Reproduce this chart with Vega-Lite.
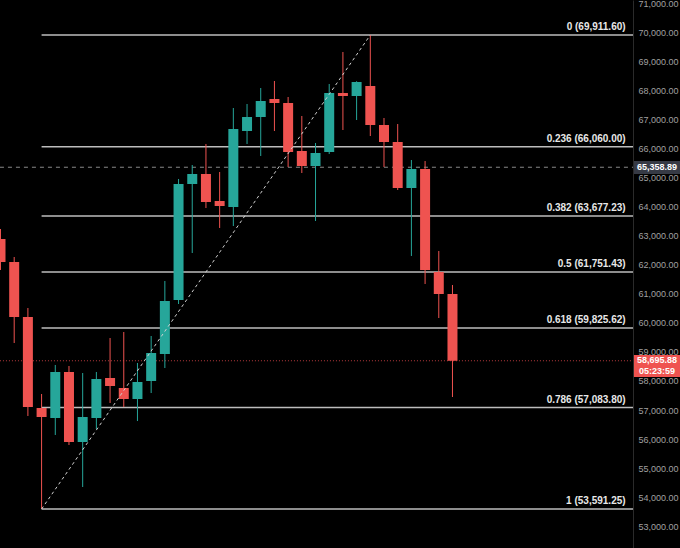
{
  "$schema": "https://vega.github.io/schema/vega-lite/v6.json",
  "width": 633,
  "height": 548,
  "autosize": {"type": "none"},
  "padding": {"left": 0, "right": 47, "top": 0, "bottom": 0},
  "background": "#000000",
  "config": {"view": {"stroke": null}, "font": "Liberation Sans", "axisY": {"labelOverlap": false, "labelBound": false, "tickCount": 19}, "axis": {"labelOverlap": false}, "axisQuantitative": {"labelOverlap": false, "tickCount": 19}},
  "datasets": {
    "candles": [
      {"i": 0, "o": 62888, "h": 63232, "l": 61821, "c": 62096, "dir": "down"},
      {"i": 1, "o": 62096, "h": 62268, "l": 59307, "c": 60202, "dir": "down"},
      {"i": 2, "o": 60202, "h": 60512, "l": 56794, "c": 57104, "dir": "down"},
      {"i": 3, "o": 57069, "h": 57551, "l": 53591.25, "c": 56759, "dir": "down"},
      {"i": 4, "o": 56725, "h": 58550, "l": 56140, "c": 58309, "dir": "up"},
      {"i": 5, "o": 58309, "h": 58515, "l": 55795, "c": 55899, "dir": "down"},
      {"i": 6, "o": 55899, "h": 58274, "l": 54349, "c": 56759, "dir": "up"},
      {"i": 7, "o": 56725, "h": 58309, "l": 56346, "c": 58068, "dir": "up"},
      {"i": 8, "o": 58102, "h": 59479, "l": 57241, "c": 57827, "dir": "down"},
      {"i": 9, "o": 57758, "h": 59686, "l": 57104, "c": 57379, "dir": "down"},
      {"i": 10, "o": 57379, "h": 58619, "l": 56621, "c": 57964, "dir": "up"},
      {"i": 11, "o": 57999, "h": 59548, "l": 57585, "c": 58963, "dir": "up"},
      {"i": 12, "o": 58928, "h": 61442, "l": 58446, "c": 60753, "dir": "up"},
      {"i": 13, "o": 60788, "h": 64954, "l": 60650, "c": 64781, "dir": "up"},
      {"i": 14, "o": 64781, "h": 65436, "l": 62406, "c": 65126, "dir": "up"},
      {"i": 15, "o": 65126, "h": 66159, "l": 63955, "c": 64162, "dir": "down"},
      {"i": 16, "o": 64196, "h": 65195, "l": 63267, "c": 64024, "dir": "down"},
      {"i": 17, "o": 63990, "h": 67398, "l": 63335, "c": 66675, "dir": "up"},
      {"i": 18, "o": 66606, "h": 67536, "l": 66159, "c": 67088, "dir": "up"},
      {"i": 19, "o": 67088, "h": 68087, "l": 65746, "c": 67639, "dir": "up"},
      {"i": 20, "o": 67708, "h": 68328, "l": 66606, "c": 67570, "dir": "down"},
      {"i": 21, "o": 67570, "h": 67777, "l": 65367, "c": 65883, "dir": "down"},
      {"i": 22, "o": 65918, "h": 67123, "l": 65160, "c": 65401, "dir": "down"},
      {"i": 23, "o": 65401, "h": 66193, "l": 63508, "c": 65849, "dir": "up"},
      {"i": 24, "o": 65883, "h": 68225, "l": 65814, "c": 67915, "dir": "up"},
      {"i": 25, "o": 67915, "h": 69326, "l": 66641, "c": 67811, "dir": "down"},
      {"i": 26, "o": 67811, "h": 68320, "l": 66985, "c": 68293, "dir": "up"},
      {"i": 27, "o": 68156, "h": 69911.6, "l": 66434, "c": 66813, "dir": "down"},
      {"i": 28, "o": 66813, "h": 67054, "l": 65367, "c": 66228, "dir": "down"},
      {"i": 29, "o": 66228, "h": 66847, "l": 64575, "c": 64644, "dir": "down"},
      {"i": 30, "o": 64644, "h": 65608, "l": 62303, "c": 65298, "dir": "up"},
      {"i": 31, "o": 65298, "h": 65573, "l": 61339, "c": 61821, "dir": "down"},
      {"i": 32, "o": 61752, "h": 62475, "l": 60168, "c": 60994, "dir": "down"},
      {"i": 33, "o": 60994, "h": 61304, "l": 57448, "c": 58695.88, "dir": "down"}
    ],
    "fib": [
      {"label": "0 (69,911.60)", "price": 69911.6, "x0": 3, "x1": 46.18, "xl": 45.64},
      {"label": "0.236 (66,060.00)", "price": 66060.0, "x0": 3, "x1": 46.18, "xl": 45.64},
      {"label": "0.382 (63,677.23)", "price": 63677.23, "x0": 3, "x1": 46.18, "xl": 45.64},
      {"label": "0.5 (61,751.43)", "price": 61751.43, "x0": 3, "x1": 46.18, "xl": 45.64},
      {"label": "0.618 (59,825.62)", "price": 59825.62, "x0": 3, "x1": 46.18, "xl": 45.64},
      {"label": "0.786 (57,083.80)", "price": 57083.8, "x0": 3, "x1": 46.18, "xl": 45.64},
      {"label": "1 (53,591.25)", "price": 53591.25, "x0": 3, "x1": 46.18, "xl": 45.64}
    ],
    "diag": [
      {"i": 3, "p": 53591.25},
      {"i": 27, "p": 69911.6}
    ],
    "plines": [
      {"kind": "ref", "price": 65358.89, "x0": -0.04, "x1": 46.18},
      {"kind": "last", "price": 58695.88, "x0": -0.04, "x1": 46.18}
    ],
    "boxes": [
      {"kind": "ref", "x0": 46.25, "x1": 49.7, "y0": 65126, "y1": 65573},
      {"kind": "last", "x0": 46.25, "x1": 49.7, "y0": 58137, "y1": 58894}
    ],
    "boxtext": [
      {"t": "65,358.89", "x": 47.93, "p": 65358.89},
      {"t": "58,695.88", "x": 47.93, "p": 58720},
      {"t": "05:23:59", "x": 47.93, "p": 58330}
    ]
  },
  "layer": [
    {
      "data": {"name": "fib"},
      "mark": {"type": "rule", "color": "#bdbdbd", "strokeWidth": 1.5},
      "encoding": {
        "x": {"field": "x0", "type": "quantitative", "scale": {"domain": [-0.0365, 46.18], "nice": false, "zero": false, "padding": 0}, "axis": null},
        "x2": {"field": "x1"},
        "y": {"field": "price", "type": "quantitative", "scale": {"domain": [52249, 71117], "nice": false, "zero": false, "padding": 0},
          "axis": {"orient": "right", "values": [53000, 54000, 55000, 56000, 57000, 58000, 59000, 60000, 61000, 62000, 63000, 64000, 65000, 66000, 67000, 68000, 69000, 70000, 71000],
            "format": ",.2f", "title": null, "grid": false, "ticks": false, "labelOverlap": false, "labelSeparation": 0, "labelPadding": 5, "labelFontSize": 9, "labelColor": "#a0a0a0", "domainColor": "#2a2a2a", "labelFont": "Liberation Sans"}}
      }
    },
    {
      "data": {"name": "plines"},
      "mark": {"type": "rule", "strokeWidth": 1},
      "encoding": {
        "x": {"field": "x0", "type": "quantitative"},
        "x2": {"field": "x1"},
        "y": {"field": "price", "type": "quantitative"},
        "color": {"field": "kind", "type": "nominal", "scale": {"domain": ["up", "down", "ref", "last"], "range": ["#26a69a", "#ef5350", "#8a8a8a", "#b5393d"]}, "legend": null},
        "strokeDash": {"field": "kind", "type": "nominal", "scale": {"domain": ["ref", "last"], "range": [[4, 4], [1, 2]]}, "legend": null}
      }
    },
    {
      "data": {"name": "candles"},
      "mark": {"type": "rule", "strokeWidth": 1},
      "encoding": {
        "x": {"field": "i", "type": "quantitative"},
        "y": {"field": "l", "type": "quantitative"},
        "y2": {"field": "h"},
        "color": {"field": "dir", "type": "nominal", "scale": {"domain": ["up", "down", "ref", "last"], "range": ["#26a69a", "#ef5350", "#8a8a8a", "#b5393d"]}, "legend": null}
      }
    },
    {
      "data": {"name": "candles"},
      "mark": {"type": "bar", "width": 10},
      "encoding": {
        "x": {"field": "i", "type": "quantitative"},
        "y": {"field": "o", "type": "quantitative"},
        "y2": {"field": "c"},
        "color": {"field": "dir", "type": "nominal", "scale": {"domain": ["up", "down", "ref", "last"], "range": ["#26a69a", "#ef5350", "#8a8a8a", "#b5393d"]}, "legend": null}
      }
    },
    {
      "data": {"name": "diag"},
      "mark": {"type": "line", "color": "#d0d0d0", "strokeWidth": 1, "strokeDash": [3, 3]},
      "encoding": {
        "x": {"field": "i", "type": "quantitative"},
        "y": {"field": "p", "type": "quantitative"}
      }
    },
    {
      "data": {"name": "fib"},
      "mark": {"type": "text", "align": "right", "baseline": "bottom", "dy": -3, "fontSize": 10, "fontWeight": "bold", "color": "#e8e8e8"},
      "encoding": {
        "x": {"field": "xl", "type": "quantitative"},
        "y": {"field": "price", "type": "quantitative"},
        "text": {"field": "label"}
      }
    },
    {
      "data": {"name": "boxes"},
      "mark": {"type": "rect"},
      "encoding": {
        "x": {"field": "x0", "type": "quantitative"},
        "x2": {"field": "x1"},
        "y": {"field": "y0", "type": "quantitative"},
        "y2": {"field": "y1"},
        "fill": {"field": "kind", "type": "nominal", "scale": {"domain": ["ref", "last"], "range": ["#363a45", "#ef5350"]}, "legend": null}
      }
    },
    {
      "data": {"name": "boxtext"},
      "mark": {"type": "text", "align": "center", "baseline": "middle", "fontSize": 9, "fontWeight": "bold", "color": "#ffffff"},
      "encoding": {
        "x": {"field": "x", "type": "quantitative"},
        "y": {"field": "p", "type": "quantitative"},
        "text": {"field": "t"}
      }
    }
  ]
}
